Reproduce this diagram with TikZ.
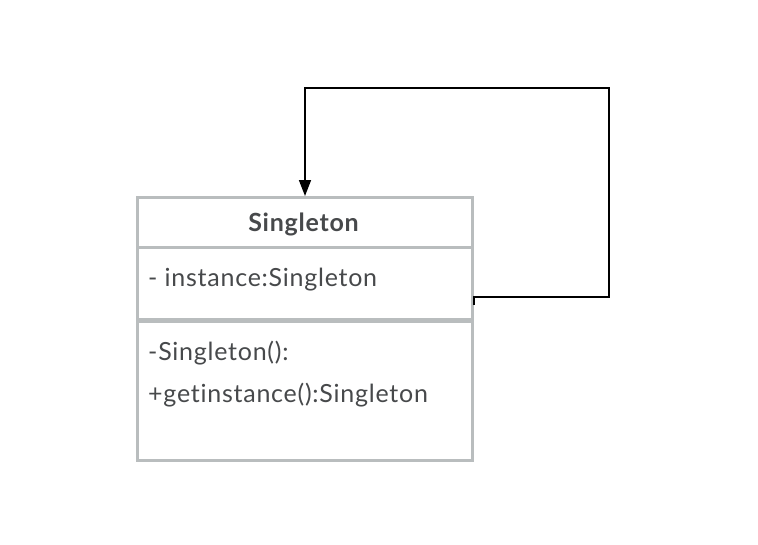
\documentclass[tikz,border=0pt]{standalone}
\usepackage{fontspec}
\setmainfont{Lato}[Ligatures={NoCommon,NoRequired}, LetterSpace=3]
\usetikzlibrary{arrows.meta,positioning,calc}
\definecolor{boxgray}{HTML}{B9BDBE}
\definecolor{textgray}{HTML}{47494B}

\begin{document}
\begin{tikzpicture}[
    x=1pt, y=-1pt,
    umlbox/.style={rectangle, draw=boxgray, line width=3pt, fill=white, minimum width=335pt, minimum height=263pt, anchor=north west, inner sep=0pt},
    divider/.style={draw=boxgray, line width=3pt},
    title/.style={font=\fontsize{25}{29}\selectfont\bfseries, text=textgray},
    member/.style={font=\fontsize{25}{29}\selectfont, text=textgray, anchor=west, inner sep=0pt},
    link/.style={-{Triangle[width=12pt,length=16pt]}, line width=1.6pt, black}
]
    \useasboundingbox (0,0) rectangle (758,544);

    % class box
    \node[umlbox] (cls) at (136,196) {};
    \draw[divider] (cls.west |- 0,247) -- (cls.east |- 0,247);
    \draw[divider, line width=4.5pt] (cls.west |- 0,320.5) -- (cls.east |- 0,320.5);

    \node[title] (name) at (303.5,224) {Singleton};
    \node[member] (attr) at (148,280) {- instance:Singleton};
    \node[member] (ctor) at (148,353) {-Singleton():};
    \node[member] (getter) at (148,395) {+getinstance():Singleton};

    % self association
    \coordinate (src) at (cls.east |- 0,305);
    \draw[link] (src) -- ++(0,-8) -| (609,88) -| (cls.north);
\end{tikzpicture}
\end{document}
